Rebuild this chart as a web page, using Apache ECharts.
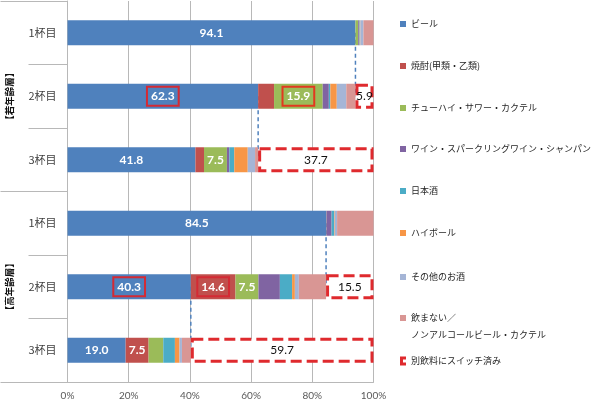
<!DOCTYPE html>
<html>
<head>
<meta charset="utf-8">
<script src="https://cdn.jsdelivr.net/npm/echarts@6/dist/echarts.min.js"></script>
<style>html,body{margin:0;padding:0;background:#fff}#c{width:600px;height:403px}</style>
</head>
<body>
<div id="c"></div>
<script>
// ---- data ----
const categories = ['1杯目', '2杯目', '3杯目', '1杯目', '2杯目', '3杯目'];
const groups = ['【若年齢層】', '【高年齢層】'];
const seriesNames = [
  'ビール',
  '焼酎(甲類・乙類)',
  'チューハイ・サワー・カクテル',
  'ワイン・スパークリングワイン・シャンパン',
  '日本酒',
  'ハイボール',
  'その他のお酒',
  '飲まない／\nノンアルコールビール・カクテル',
  '別飲料にスイッチ済み'
];
const beer     = [94.1, 62.3, 41.8, 84.5, 40.3, 19.0];
const shochu   = [0.0, 5.2, 2.8, 0.0, 14.6, 7.5];
const chuhai   = [0.9, 15.9, 7.5, 0.1, 7.5, 4.8];
const wine     = [0.3, 2.0, 0.8, 1.7, 7.0, 0.0];
const sake     = [0.2, 0.5, 1.6, 0.8, 4.0, 3.8];
const highball = [0.2, 2.1, 4.4, 0.2, 0.9, 1.5];
const other    = [1.0, 3.1, 2.4, 0.8, 1.3, 0.8];
const noDrink  = [3.3, 3.0, 1.0, 11.9, 8.9, 2.9];
const switched = [0.0, 5.9, 37.7, 0.0, 15.5, 59.7];
const xTicks = { min: 0, max: 100, step: 20 };

// which points show labels, and which labels are framed
const labelled = { 0: [0, 1, 2, 3, 4, 5], 1: [4, 5], 2: [1, 2, 4], 8: [1, 2, 4, 5] };
const boxed = { 0: [1, 4], 1: [4], 2: [1] };
// connectors: from the beer end of one row to the switched box of the next
const links = [[0, 1], [1, 2], [3, 4], [4, 5]];

// ---- styles ----
const colors = ['#4F81BD', '#C0504D', '#9BBB59', '#8064A2', '#4BACC6', '#F79646', '#A5B5D6', '#D99694'];
const RED = '#DF2A2E';
const JP = '"Noto Sans CJK JP", sans-serif';
const NUM = 'Lato, "Noto Sans", sans-serif';

const allValues = [beer, shochu, chuhai, wine, sake, highball, other, noDrink, switched];

const barSeries = allValues.map((vals, si) => {
  const isSwitch = si === 8;
  return {
    name: seriesNames[si],
    type: 'bar',
    stack: 'total',
    barWidth: 25,
    z: 2,
    silent: true,
    emphasis: { disabled: true },
    itemStyle: isSwitch
      ? { color: '#ffffff', borderColor: RED, borderWidth: 3, borderType: [11, 5] }
      : { color: colors[si] },
    label: { show: false },
    data: vals.map((v, i) => {
      const item = { value: (isSwitch && v === 0) ? '-' : v };
      if (labelled[si] && labelled[si].includes(i)) {
        const lab = {
          show: true,
          position: 'inside',
          formatter: p => Number(p.value).toFixed(1),
          color: isSwitch ? '#111' : '#ffffff',
          fontWeight: isSwitch ? 'normal' : 'bold',
          fontSize: 12,
          fontFamily: NUM
        };
        if (boxed[si] && boxed[si].includes(i)) {
          lab.borderColor = si === 2 ? '#E2381F' : '#D42A34';
          lab.borderWidth = 2;
          lab.padding = [4, 4, 3, 4];
        }
        item.label = lab;
      }
      return item;
    })
  };
});

const linkSeries = links.map(([a, b]) => ({
  type: 'line',
  silent: true,
  z: 1,
  symbol: 'none',
  lineStyle: { color: '#4F81BD', width: 1.5, type: [4, 3] },
  data: [[beer[a], a], [beer[a], b]]
}));

const legendCenters = [24, 66, 108, 149, 191, 233, 277, 326.5, 361];
const legendText = { fontSize: 9, color: '#262626', fontFamily: JP, lineHeight: 14 };
const legends = seriesNames.map((n, i) => {
  const lg = {
    data: [n],
    left: 400,
    top: legendCenters[i] - 7,
    orient: 'vertical',
    padding: 0,
    itemWidth: 6,
    itemHeight: 6,
    icon: 'rect',
    selectedMode: false,
    textStyle: legendText
  };
  if (i === 7) {
    lg.icon = 'path://M0,0H6V6H0Z M0,23H0.01V22.99Z';
    lg.itemHeight = 23;
    lg.textStyle = Object.assign({}, legendText, { lineHeight: 17 });
    lg.top = legendCenters[i] - 17;
  }
  if (i === 8) {
    lg.icon = 'path://M0,0H6V3H3V6H6V9H0Z';
    lg.itemWidth = 6;
    lg.itemHeight = 9;
    lg.itemStyle = { color: RED, borderWidth: 0 };
  }
  return lg;
});

const chart = echarts.init(document.getElementById('c'), null, { renderer: 'canvas' });
chart.setOption({
  animation: false,
  backgroundColor: '#ffffff',
  legend: legends,
  grid: { left: 67.5, right: 226.5, top: 1, bottom: 21, containLabel: false },
  xAxis: {
    type: 'value',
    min: xTicks.min, max: xTicks.max, interval: xTicks.step,
    axisLabel: { formatter: '{value}%', color: '#595959', fontSize: 10, margin: 9, fontFamily: NUM },
    splitLine: { lineStyle: { color: '#B8B8B8' } },
    axisLine: { show: true, lineStyle: { color: '#B8B8B8' } },
    axisTick: { show: false }
  },
  yAxis: [
    {
      type: 'category', data: categories, inverse: true,
      axisLine: { show: true, lineStyle: { color: '#B8B8B8' } },
      axisTick: { show: true, length: 39, lineStyle: { color: '#B8B8B8' } },
      axisLabel: { fontSize: 11, color: '#404040', margin: 11, fontFamily: JP }
    },
    {
      type: 'category', data: groups, inverse: true, position: 'left',
      axisLine: { show: false },
      axisTick: { show: true, length: 67, lineStyle: { color: '#B8B8B8' } },
      axisLabel: { rotate: 90, margin: 53, fontSize: 9.5, fontWeight: 'bold', color: '#111', fontFamily: JP }
    }
  ],
  series: barSeries.concat(linkSeries)
});
</script>
</body>
</html>
